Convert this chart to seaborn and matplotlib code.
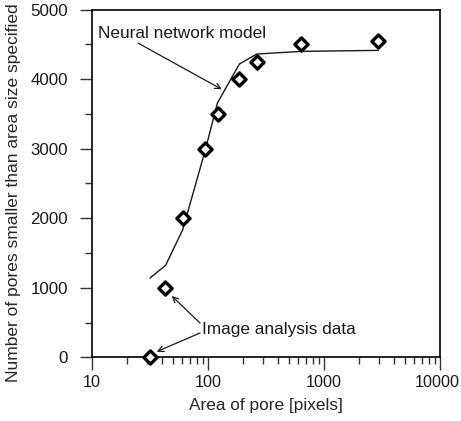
import numpy as np
import pandas as pd
import matplotlib
matplotlib.use("Agg")
import matplotlib.pyplot as plt
import matplotlib.transforms as mtransforms
import seaborn as sns

# ── Data ──────────────────────────────────────────────────────────────────────

# image analysis data (diamonds)
area_measured  = [31.8, 42.8, 61.6, 94, 123, 187, 264, 635, 2945]
count_measured = [0, 1000, 2000, 3000, 3500, 4000, 4250, 4500, 4550]

# neural network model (line)
area_model  = [31.8, 43.3, 60.8, 94, 121, 187, 264, 635, 2945]
count_model = [1141, 1323, 1836, 2950, 3658, 4218, 4362, 4400, 4415]

x_ticks = [10, 100, 1000, 10000]
y_ticks = [0, 1000, 2000, 3000, 4000, 5000]

measured = pd.DataFrame({"area": area_measured, "count": count_measured})
model = pd.DataFrame({"area": area_model, "count": count_model})

# ── Style ─────────────────────────────────────────────────────────────────────

sns.set_theme(style="ticks")
plt.rcParams["font.family"] = ["Liberation Sans", "DejaVu Sans"]
plt.rcParams.update({
    "font.size": 12.4,
    "axes.edgecolor": "black",
    "axes.linewidth": 1.2,
    "xtick.color": "#333333",
    "ytick.color": "#333333",
    "xtick.labelcolor": "#1a1a1a",
    "ytick.labelcolor": "#1a1a1a",
})

fig = plt.figure(figsize=(4.61, 4.21), dpi=100)
ax = fig.add_axes([0.199, 0.1513, 0.7554, 0.8257])

sns.lineplot(data=model, x="area", y="count", ax=ax, color="#1a1a1a",
             lw=1.0, sort=False, estimator=None)
sns.scatterplot(data=measured, x="area", y="count", ax=ax, marker="D",
                s=45, facecolor="white", edgecolor="black", linewidth=2.4,
                zorder=5, clip_on=False)

ax.set_xscale("log")
ax.set_xlim(10, 10000)
ax.set_ylim(0, 5000)
ax.set_xticks(x_ticks)
ax.set_xticklabels([str(t) for t in x_ticks], fontsize=11.6)
ax.set_yticks(y_ticks)
ax.set_yticklabels([str(t) for t in y_ticks], fontsize=12.2)
ax.yaxis.set_minor_locator(matplotlib.ticker.MultipleLocator(500))
ax.xaxis.set_minor_locator(matplotlib.ticker.LogLocator(base=10, subs=np.arange(2, 10)))
ax.xaxis.set_minor_formatter(matplotlib.ticker.NullFormatter())

ax.tick_params(axis="y", which="major", length=9, width=1.0, direction="out", pad=8)
ax.tick_params(axis="y", which="minor", length=5, width=1.0, direction="out")
ax.tick_params(axis="x", which="major", length=9, width=1.0, direction="out", pad=3.5)
ax.tick_params(axis="x", which="minor", length=5, width=1.0, direction="out")

# last label sits right at the figure edge; nudge it a touch left
last = ax.get_xticklabels()[-1]
last.set_transform(last.get_transform() +
                   mtransforms.ScaledTranslation(-3 / 100, 0, fig.dpi_scale_trans))

ax.set_xlabel("Area of pore [pixels]", fontsize=12.4, labelpad=6)
ax.set_ylabel("Number of pores smaller than area size specified", fontsize=12.5)
ax.yaxis.label.set_va("center")
ax.yaxis.set_label_coords(-0.225, 0.474)

for s in ["top", "right", "left", "bottom"]:
    ax.spines[s].set_visible(True)

# ── Annotations ───────────────────────────────────────────────────────────────

arrow = dict(arrowstyle="->", color="#1a1a1a", lw=0.9, mutation_scale=10,
             shrinkA=0, shrinkB=0)

ax.text(11.4, 4661, "Neural network model", ha="left", va="center", fontsize=12.4,
        color="#1a1a1a")
ax.annotate("", xy=(131.8, 3855), xytext=(25.2, 4517), arrowprops=arrow)

ax.text(89.8, 393, "Image analysis data", ha="left", va="center", fontsize=12.4,
        color="#1a1a1a")
ax.annotate("", xy=(48.9, 882), xytext=(85.7, 493), arrowprops=arrow)
ax.annotate("", xy=(36.3, 81), xytext=(85.7, 350), arrowprops=arrow)

fig.savefig("out.png", dpi=100)
